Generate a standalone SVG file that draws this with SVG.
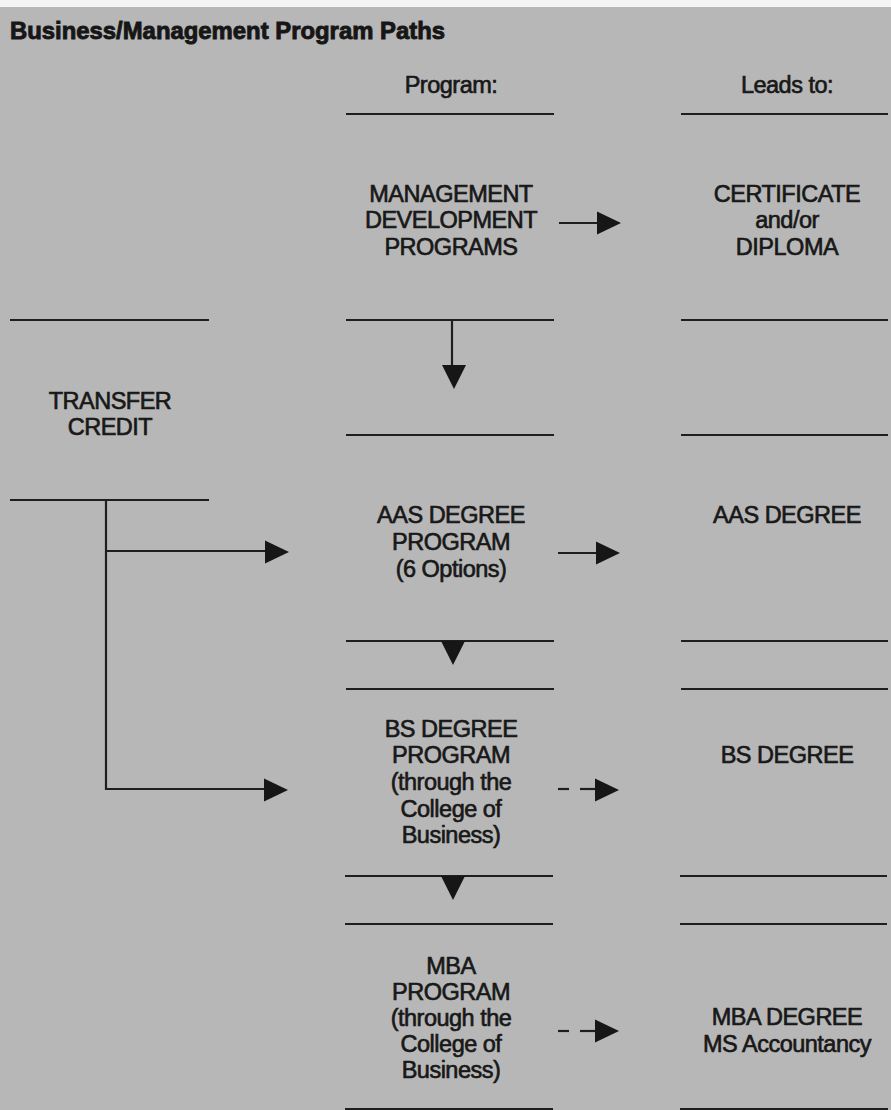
<svg xmlns="http://www.w3.org/2000/svg" width="891" height="1110" viewBox="0 0 891 1110">
<style>
.t{font-family:"Liberation Sans",Arial,sans-serif;font-size:23.5px;fill:#181818;stroke:#181818;stroke-width:0.65;text-anchor:middle;letter-spacing:-0.5px}
.h{font-family:"Liberation Sans",Arial,sans-serif;font-size:24px;font-weight:bold;fill:#161616;stroke:#161616;stroke-width:0.9}
.r{stroke:#1e1e1e;stroke-width:2.2;fill:none}
.c{stroke:#1e1e1e;stroke-width:2.2;fill:none}
.a{fill:#161616}
</style>
<defs>
<path id="ar" d="M0,-11.5 L24,0 L0,11.5 Z"/>
<path id="ad" d="M-12,0 L12,0 L0,24 Z"/>
</defs>
<rect x="0" y="0" width="891" height="1110" fill="#b7b7b7"/>
<rect x="0" y="0" width="891" height="7" fill="#f4f4f4"/>
<text class="h" x="10" y="39" textLength="435" lengthAdjust="spacingAndGlyphs">Business/Management Program Paths</text>
<g id="headers">
<text class="t" x="451" y="93">Program:</text>
<text class="t" x="787" y="93">Leads to:</text>
</g>
<g id="rules">
<line class="r" x1="346" y1="114" x2="554" y2="114"/>
<line class="r" x1="681" y1="114" x2="888" y2="114"/>
<line class="r" x1="346" y1="320" x2="554" y2="320"/>
<line class="r" x1="681" y1="320" x2="888" y2="320"/>
<line class="r" x1="10" y1="320" x2="209" y2="320"/>
<line class="r" x1="346" y1="435" x2="554" y2="435"/>
<line class="r" x1="681" y1="435" x2="888" y2="435"/>
<line class="r" x1="10" y1="500" x2="209" y2="500"/>
<line class="r" x1="346" y1="641" x2="554" y2="641"/>
<line class="r" x1="681" y1="641" x2="888" y2="641"/>
<line class="r" x1="346" y1="689" x2="554" y2="689"/>
<line class="r" x1="681" y1="689" x2="888" y2="689"/>
<line class="r" x1="345" y1="876" x2="553" y2="876"/>
<line class="r" x1="680" y1="876" x2="887" y2="876"/>
<line class="r" x1="345" y1="924" x2="553" y2="924"/>
<line class="r" x1="680" y1="924" x2="887" y2="924"/>
<line class="r" x1="345" y1="1109" x2="553" y2="1109"/>
<line class="r" x1="680" y1="1109" x2="888" y2="1109"/>
</g>
<g id="mdp">
<text class="t" x="451" y="202">MANAGEMENT</text>
<text class="t" x="451" y="228">DEVELOPMENT</text>
<text class="t" x="451" y="255">PROGRAMS</text>
</g>
<g id="certificate">
<text class="t" x="787" y="202">CERTIFICATE</text>
<text class="t" x="787" y="228">and/or</text>
<text class="t" x="787" y="255">DIPLOMA</text>
</g>
<g id="transfer">
<text class="t" x="110" y="409">TRANSFER</text>
<text class="t" x="110" y="435">CREDIT</text>
</g>
<g id="aas">
<text class="t" x="451" y="523">AAS DEGREE</text>
<text class="t" x="451" y="550">PROGRAM</text>
<text class="t" x="451" y="577">(6 Options)</text>
</g>
<g id="aasdegree">
<text class="t" x="787" y="523">AAS DEGREE</text>
</g>
<g id="bs">
<text class="t" x="451" y="737">BS DEGREE</text>
<text class="t" x="451" y="763">PROGRAM</text>
<text class="t" x="451" y="790">(through the</text>
<text class="t" x="451" y="817">College of</text>
<text class="t" x="451" y="843">Business)</text>
</g>
<g id="bsdegree">
<text class="t" x="787" y="763">BS DEGREE</text>
</g>
<g id="mba">
<text class="t" x="451" y="974">MBA</text>
<text class="t" x="451" y="1000">PROGRAM</text>
<text class="t" x="451" y="1026">(through the</text>
<text class="t" x="451" y="1052">College of</text>
<text class="t" x="451" y="1078">Business)</text>
</g>
<g id="mbadegree">
<text class="t" x="787" y="1025">MBA DEGREE</text>
<text class="t" x="787" y="1052">MS Accountancy</text>
</g>
<g id="connectors">
<line class="c" x1="559" y1="223" x2="598" y2="223"/>
<use href="#ar" class="a" x="597" y="223"/>
<line class="c" x1="452" y1="320" x2="452" y2="366"/>
<use href="#ad" class="a" x="454" y="365"/>
<line class="c" x1="558" y1="553" x2="597" y2="553"/>
<use href="#ar" class="a" x="596" y="553"/>
<use href="#ad" class="a" x="453" y="641"/>
<line class="c" x1="558" y1="789" x2="569" y2="789"/>
<line class="c" x1="580" y1="789" x2="596" y2="789"/>
<use href="#ar" class="a" x="595" y="790"/>
<use href="#ad" class="a" x="453" y="876"/>
<line class="c" x1="558" y1="1031" x2="569" y2="1031"/>
<line class="c" x1="580" y1="1031" x2="596" y2="1031"/>
<use href="#ar" class="a" x="595" y="1031"/>
<path class="c" d="M106,500 V789 H265"/>
<line class="c" x1="106" y1="551" x2="266" y2="551"/>
<use href="#ar" class="a" x="265" y="552"/>
<use href="#ar" class="a" x="264" y="790"/>
</g>
</svg>
